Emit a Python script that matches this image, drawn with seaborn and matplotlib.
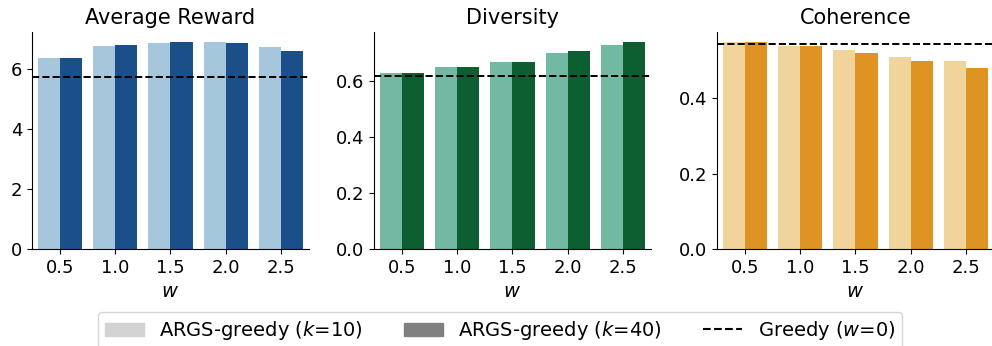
import numpy as np
import matplotlib
matplotlib.use("Agg")
import matplotlib.pyplot as plt
import matplotlib.patches as mpatches
from matplotlib.lines import Line2D
import pandas as pd
import seaborn as sns

w_values = ["0.5", "1.0", "1.5", "2.0", "2.5"]

reward_k10 = [6.37, 6.77, 6.87, 6.90, 6.73]
reward_k40 = [6.37, 6.80, 6.90, 6.87, 6.60]
reward_greedy = 5.73

diversity_k10 = [0.629, 0.650, 0.668, 0.700, 0.729]
diversity_k40 = [0.629, 0.650, 0.668, 0.707, 0.739]
diversity_greedy = 0.618

coherence_k10 = [0.548, 0.538, 0.527, 0.509, 0.498]
coherence_k40 = [0.548, 0.538, 0.519, 0.498, 0.479]
coherence_greedy = 0.543

titles = ["Average Reward", "Diversity", "Coherence"]
yticks = [[0, 2, 4, 6], [0.0, 0.2, 0.4, 0.6], [0.0, 0.2, 0.4]]
palettes = [["#a6c7db", "#1b4f8a"], ["#73b8a2", "#0d5e30"], ["#f0d49c", "#de9322"]]
panels = [(reward_k10, reward_k40, reward_greedy),
          (diversity_k10, diversity_k40, diversity_greedy),
          (coherence_k10, coherence_k40, coherence_greedy)]

sns.set_style("ticks")
plt.rcParams['font.family'] = ['DejaVu Sans']
plt.rcParams.update({"text.color": "black", "axes.labelcolor": "black",
                     "xtick.color": "black", "ytick.color": "black",
                     "axes.edgecolor": "black"})

fig = plt.figure(figsize=(9.92, 3.46), dpi=100)
lefts = [0.0323, 0.377, 0.7228]
axes = [fig.add_axes([l, 0.2803, 0.279, 0.6272]) for l in lefts]

for ax, title, ticks, pal, (k10, k40, greedy) in zip(axes, titles, yticks, palettes, panels):
    df = pd.DataFrame({
        "w": w_values * 2,
        "value": k10 + k40,
        "k": ["k10"] * 5 + ["k40"] * 5,
    })
    sns.barplot(data=df, x="w", y="value", hue="k", palette=pal, ax=ax,
                saturation=1, legend=False, linewidth=0)
    ax.axhline(greedy, color="black", linestyle="--", linewidth=1.4)
    ax.set_yticks(ticks)
    ax.set_title(title, fontsize=15)
    ax.set_xlabel("$w$", fontsize=14, labelpad=4)
    ax.set_ylabel("")
    ax.tick_params(labelsize=13)
    sns.despine(ax=ax)

handles = [mpatches.Patch(color="#d3d3d3", label="ARGS-greedy ($k$=10)"),
           mpatches.Patch(color="#808080", label="ARGS-greedy ($k$=40)"),
           Line2D([0], [0], color="black", linestyle="--", label="Greedy ($w$=0)")]
fig.legend(handles=handles, loc="upper center", bbox_to_anchor=(0.504, 0.097),
           ncol=3, fontsize=14, frameon=True, columnspacing=2.1,
           handlelength=2.0, handletextpad=0.8, borderpad=0.35,
           borderaxespad=0)

plt.savefig("out.png", dpi=100)
